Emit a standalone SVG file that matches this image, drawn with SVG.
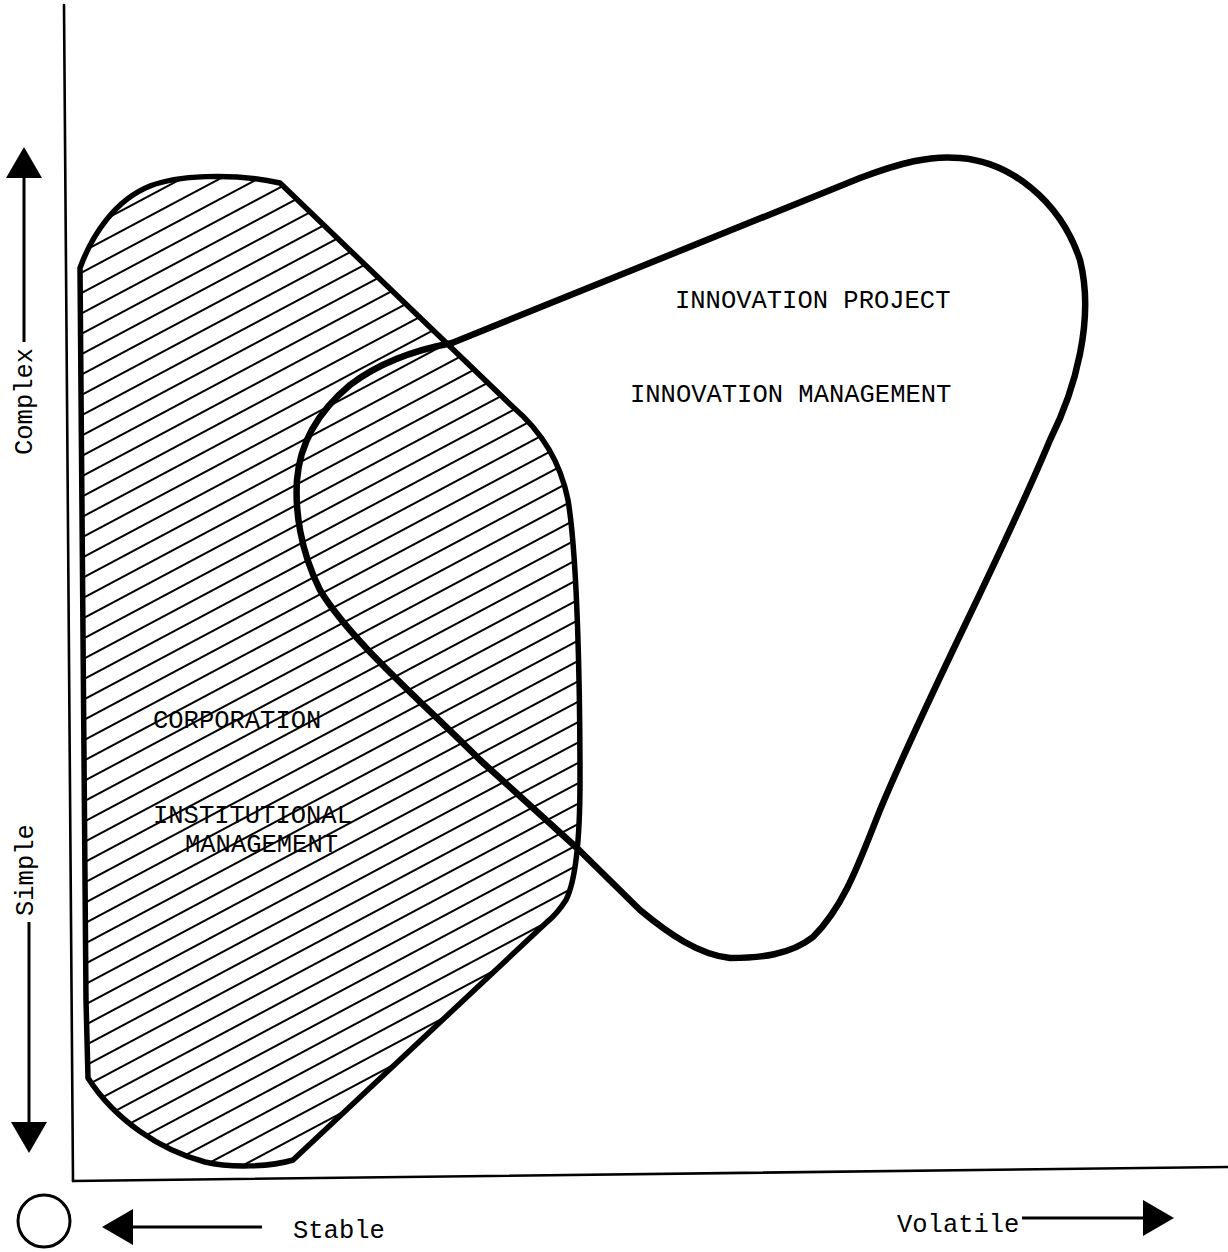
<svg xmlns="http://www.w3.org/2000/svg" width="1228" height="1252" viewBox="0 0 1228 1252">
  <style>
    .bg { fill: #ffffff; }
    .axis { stroke: #000; stroke-width: 2.6; fill: none; stroke-linecap: round; }
    .arrow { stroke: #000; stroke-width: 3; fill: none; }
    .region { stroke: #000; stroke-linejoin: round; stroke-linecap: round; }
    .open { fill: none; }
    .hatched { fill: url(#hatch); }
    .type { font-family: "Liberation Mono", "DejaVu Sans Mono", monospace; font-size: 25.5px; fill: #000; }
  </style>
  <defs>
    <!-- diagonal hatching for the institutional area -->
    <pattern id="hatch" patternUnits="userSpaceOnUse" width="40" height="18" patternTransform="rotate(-28)">
      <rect x="0" y="0" width="40" height="18" fill="#fff"/>
      <line x1="0" y1="9" x2="40" y2="9" stroke="#000" stroke-width="1.8"/>
    </pattern>
    <marker id="head" viewBox="0 -18 31 36" markerWidth="31" markerHeight="36" refX="0" refY="0" markerUnits="userSpaceOnUse" orient="auto">
      <path d="M0,-18 L31,0 L0,18 Z" fill="#000"/>
    </marker>
  </defs>

  <rect class="bg" x="0" y="0" width="1228" height="1252"/>

  <!-- axes and direction arrows -->
  <g id="connectors">
    <line class="axis" x1="64" y1="5" x2="73" y2="1181"/>
    <line class="axis" x1="73" y1="1181" x2="1228" y2="1167"/>
    <line class="arrow" x1="24" y1="342" x2="24" y2="178" marker-end="url(#head)"/>
    <line class="arrow" x1="29" y1="922" x2="29" y2="1122" marker-end="url(#head)"/>
    <line class="arrow" x1="262" y1="1227" x2="133" y2="1227" marker-end="url(#head)"/>
    <line class="arrow" x1="1022" y1="1218" x2="1143" y2="1218" marker-end="url(#head)"/>
    <circle cx="44" cy="1221" r="26" fill="none" stroke="#000" stroke-width="3"/>
  </g>

  <!-- corporation: hatched region -->
  <g id="corporation">
    <path class="region hatched" stroke-width="5.5"
          d="M80,268 C92,235 115,200 150,186 C175,176 230,172 280,183 L513,407 C540,430 560,460 568,500 C578,560 580,700 580,780 C580,840 576,880 566,900 Q557,914 547,922 L293,1160 C270,1167 230,1168 205,1162 C160,1150 115,1120 88,1078 L86,1000 Z"/>
    <text class="type" x="153" y="728">CORPORATION</text>
    <text class="type" x="153" y="823">INSTITUTIONAL</text>
    <text class="type" x="185" y="852">MANAGEMENT</text>
  </g>

  <!-- innovation project: outlined region -->
  <g id="innovation">
    <path class="region open" stroke-width="6.5"
          d="M452,343 L860,178 C900,163 930,155 960,158 C1010,162 1060,200 1080,260 C1095,320 1075,390 1050,440 C1000,560 930,690 880,810 C860,860 845,905 813,937 C790,955 760,958 730,958 C700,955 670,935 640,910 L577,848 L480,760 C420,700 350,640 320,590 C300,550 295,510 297,480 C300,440 320,410 350,385 C380,362 415,350 452,343 Z"/>
    <text class="type" x="675" y="308">INNOVATION PROJECT</text>
    <text class="type" x="630" y="402">INNOVATION MANAGEMENT</text>
  </g>

  <!-- axis labels -->
  <g id="axis-labels">
    <text class="type" transform="translate(32,455) rotate(-90)">Complex</text>
    <text class="type" transform="translate(33,916) rotate(-90)">Simple</text>
    <text class="type" x="293" y="1238">Stable</text>
    <text class="type" x="897" y="1232">Volatile</text>
  </g>
</svg>
